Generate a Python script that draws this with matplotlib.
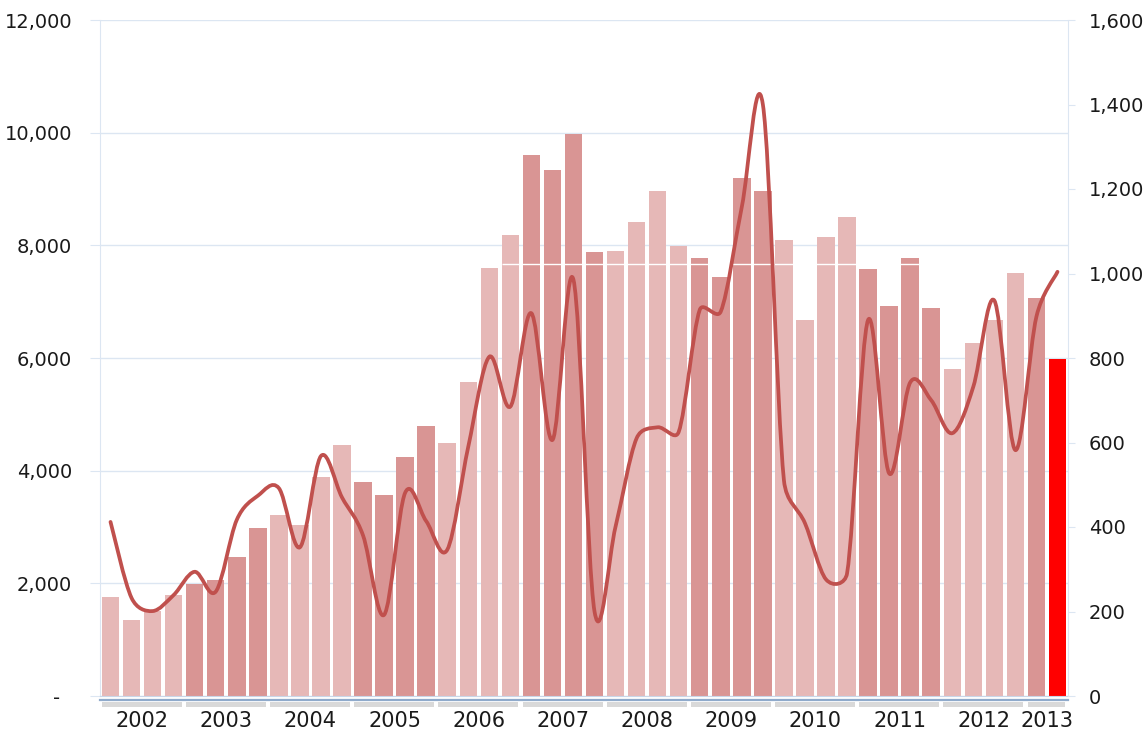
import numpy as np
import matplotlib
matplotlib.use("Agg")
import matplotlib.pyplot as plt
import matplotlib.transforms as mtransforms
from matplotlib.path import Path
from matplotlib.patches import PathPatch, Rectangle
from matplotlib.lines import Line2D
from matplotlib.ticker import FuncFormatter, MultipleLocator

# Datos trimestrales 2002 T1 - 2013 T2
years = [str(y) for y in range(2002, 2014)]
quarters_per_year = [4] * 11 + [2]

# barras (eje izquierdo)
bar_values = [1765, 1350, 1510, 1790, 1990, 2060, 2475, 2990,
              3220, 3040, 3880, 4460, 3800, 3560, 4240, 4790,
              4490, 5570, 7600, 8180, 9610, 9340, 9980, 7880,
              7905, 8420, 8965, 7990, 7780, 7440, 9190, 8965,
              8100, 6680, 8150, 8500, 7585, 6920, 7780, 6890,
              5810, 6260, 6670, 7515, 7065, 5990]

# linea suavizada (eje derecho)
line_values = [412, 232, 201, 239, 294, 247, 417, 474,
               492, 352, 568, 470, 380, 192, 481, 414,
               346, 590, 803, 685, 906, 606, 985, 200,
               401, 610, 636, 625, 914, 910, 1158, 1400,
               511, 409, 276, 290, 890, 527, 742, 700,
               622, 732, 936, 582, 898, 1004]

LIGHT = "#E6B8B7"
DARK = "#D99594"
RED = "#FF0000"
LINE = "#C0504D"
GRID = "#DCE6F2"
AXIS = "#C9D6E8"

plt.rcParams["font.family"] = ["DejaVu Sans"]


def smooth_path(axis, xs, ys):
    # suavizado estilo Excel: Bezier con asas de 1/6, limitadas a medio segmento (en pixeles)
    pts = axis.transData.transform(np.column_stack([xs, ys]).astype(float))
    ext = np.vstack([pts[0], pts, pts[-1]])
    verts = [pts[0]]
    codes = [Path.MOVETO]
    for i in range(len(pts) - 1):
        p0, p1, p2, p3 = ext[i], ext[i + 1], ext[i + 2], ext[i + 3]
        d12 = np.hypot(*(p2 - p1))
        d02 = np.hypot(*(p2 - p0))
        d13 = np.hypot(*(p3 - p1))
        f = 1 / 6 if d02 / 6 < d12 / 2 else d12 / (2 * d02)
        g = 1 / 6 if d13 / 6 < d12 / 2 else d12 / (2 * d13)
        verts += [p1 + f * (p2 - p0), p2 - g * (p3 - p1), p2]
        codes += [Path.CURVE4] * 3
    verts = axis.transData.inverted().transform(np.array(verts))
    return Path(verts, codes)


n = len(bar_values)
x = np.arange(n)
year_idx = np.repeat(np.arange(len(years)), quarters_per_year)
colors = [LIGHT if k % 2 == 0 else DARK for k in year_idx]
colors[-1] = RED

fig = plt.figure(figsize=(11.47, 7.29), dpi=100)
ax = fig.add_axes([100 / 1147, 1 - 696 / 729, 968 / 1147, 676 / 729])
ax2 = ax.twinx()

ax.bar(x, bar_values, width=0.83, color=colors, zorder=2)
ax.set_xlim(-0.5, n - 0.5)
ax.set_ylim(0, 12000)
ax.yaxis.set_major_locator(MultipleLocator(2000))
ax.yaxis.set_major_formatter(FuncFormatter(lambda v, p: "-  " if v == 0 else f"{v:,.0f}"))
ax.set_axisbelow(True)
ax.grid(axis="y", color=GRID, lw=1)
ax.set_xticks([])
ax.tick_params(axis="y", length=7, color=GRID, pad=13, labelsize=14, labelcolor="#1a1a1a")

# linea blanca que cruza las barras
ax.hlines(7660, 18.58, 38.42, color="white", lw=1, zorder=3)

for s in ["top", "right"]:
    ax.spines[s].set_visible(False)
ax.spines["left"].set_color(GRID)
ax.spines["bottom"].set_color(AXIS)

ax2.set_xlim(-0.5, n - 0.5)
ax2.set_ylim(0, 1600)
ax2.add_patch(PathPatch(smooth_path(ax2, x, line_values), facecolor="none",
                        edgecolor=LINE, lw=2.7, capstyle="round", joinstyle="round", zorder=4))
ax2.yaxis.set_major_locator(MultipleLocator(200))
ax2.yaxis.set_major_formatter(FuncFormatter(lambda v, p: f"{v:,.0f}"))
ax2.tick_params(axis="y", length=5, color=GRID, pad=10, labelsize=14, labelcolor="#1a1a1a")
for s in ["top", "left", "bottom"]:
    ax2.spines[s].set_visible(False)
ax2.spines["right"].set_color(GRID)

# eje de categorias: linea azul, bandas grises y años
trans = mtransforms.blended_transform_factory(ax.transData, ax.transAxes)
ax.add_line(Line2D([-0.5, n - 0.5], [-4 / 676, -4 / 676], transform=trans,
                   color="#8FAACB", lw=1.6, clip_on=False))
start = 0
for yr, q in zip(years, quarters_per_year):
    end = start + q - 1
    ax.add_patch(Rectangle((start - 0.42, -11 / 676), (end - start) + 0.8, 5 / 676,
                           transform=trans, color="#D9D9D9", clip_on=False, lw=0))
    ax.text((start + end) / 2, -15 / 676, yr, transform=trans, ha="center", va="top",
            fontsize=15, color="#1a1a1a")
    start = end + 1

fig.savefig("out.png", dpi=100)
